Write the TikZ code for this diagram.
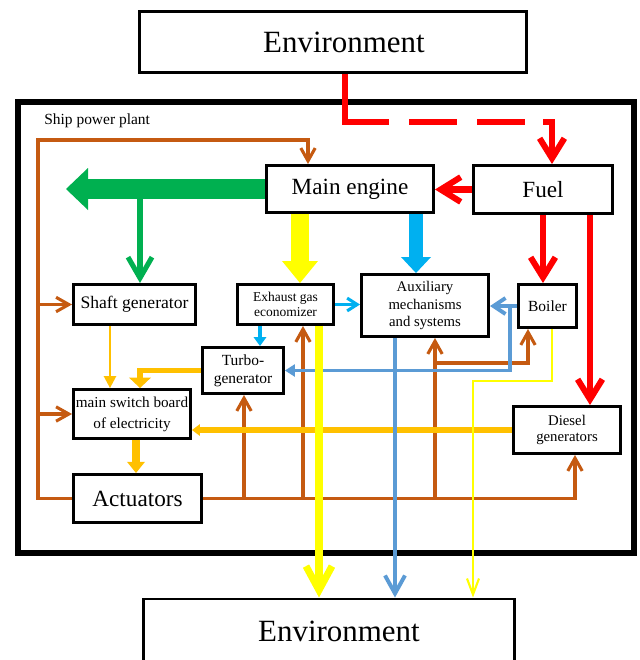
\documentclass[tikz,border=0pt]{standalone}
\usepackage{fontspec}
\setmainfont{Liberation Serif}
\usetikzlibrary{arrows.meta}

\definecolor{fuelred}{HTML}{FF0000}
\definecolor{shaftgreen}{HTML}{00B050}
\definecolor{gasyellow}{HTML}{FFFF00}
\definecolor{watercyan}{HTML}{00B0F0}
\definecolor{steamblue}{HTML}{5B9BD5}
\definecolor{powerorange}{HTML}{FFC000}
\definecolor{ctrlbrown}{HTML}{C55A11}

\begin{document}
\begin{tikzpicture}[x=0.025cm, y=-0.025cm,
  box/.style={draw, line width=2.1pt, align=center, inner sep=1pt, fill=white},
  envtext/.style={font=\fontsize{22}{26}\selectfont},
  bigtext/.style={font=\fontsize{16.5}{20}\selectfont},
  midtext/.style={font=\fontsize{12.5}{15}\selectfont},
  smalltext/.style={font=\fontsize{10.5}{12.5}\selectfont},
  tinytext/.style={font=\fontsize{9.6}{10.8}\selectfont},
  redflow/.style={fuelred, line width=4.3pt, -{Straight Barb[length=0.5cm,width=0.62cm]}},
  greenbig/.style={shaftgreen, line width=0.52cm, -{Triangle[length=0.55cm,width=1.05cm,line width=0pt]}},
  greenflow/.style={shaftgreen, line width=3.6pt, -{Straight Barb[length=0.52cm,width=0.6cm]}},
  yellowbig/.style={gasyellow, line width=0.45cm, -{Triangle[length=0.55cm,width=0.9cm,line width=0pt]}},
  yellowmid/.style={gasyellow, line width=5pt, -{Straight Barb[length=0.6cm,width=0.65cm]}},
  yellowthin/.style={gasyellow, line width=1.5pt, -{Straight Barb[length=0.4cm,width=0.3cm]}},
  cyanbig/.style={watercyan, line width=0.35cm, -{Triangle[length=0.4cm,width=0.75cm,line width=0pt]}},
  cyanlink/.style={watercyan, line width=2.2pt},
  steel/.style={steamblue, line width=2.8pt},
  orangelink/.style={powerorange, line width=2pt},
  brownlink/.style={ctrlbrown, line width=2.2pt, -{Straight Barb[length=0.32cm,width=0.36cm]}}]

  \useasboundingbox (0,0) rectangle (640,660);

  % plant frame
  \draw[line width=3.6pt] (18,102) rectangle (634,553);
  \node[anchor=west, font=\fontsize{11}{13}\selectfont, inner sep=0pt] (plantlabel) at (44,121) {Ship power plant};

  % blocks
  \node[box, envtext, minimum width=9.65cm, minimum height=1.525cm] (envtop) at (333,42) {\hspace*{0.55cm}Environment};
  \node[box, envtext, minimum width=9.275cm, minimum height=1.6cm] (envbot) at (329,631) {\hspace*{0.5cm}Environment};
  \node[box, bigtext, minimum width=4.175cm, minimum height=1.175cm] (engine) at (350,189) {Main engine};
  \node[box, bigtext, minimum width=3.475cm, minimum height=1.2cm] (fuel) at (543,189.5) {Fuel};
  \node[box, midtext, minimum width=3.05cm, minimum height=1cm] (shaftgen) at (134.5,304.5) {Shaft generator};
  \node[box, tinytext, minimum width=2.4cm, minimum height=1cm] (econ) at (285.5,304.5) {Exhaust gas\\economizer};
  \node[box, smalltext, minimum width=3.175cm, minimum height=1.55cm] (aux) at (425,305.5) {Auxiliary\\mechanisms\\and systems};
  \node[box, font=\fontsize{11}{13}\selectfont, minimum width=1.45cm, minimum height=1.075cm] (boiler) at (547.5,306) {Boiler};
  \node[box, font=\fontsize{11}{12.8}\selectfont, minimum width=2.025cm, minimum height=1.15cm] (turbo) at (243,370.5) {Turbo-\\generator};
  \node[box, font=\fontsize{10.8}{15}\selectfont, minimum width=2.925cm, minimum height=1.225cm] (switch) at (132,414) {main switch board\\of electricity};
  \node[box, font=\fontsize{10.5}{11.5}\selectfont, minimum width=2.675cm, minimum height=1.175cm] (diesel) at (567,430) {Diesel\\generators};
  \node[box, bigtext, minimum width=3.2cm, minimum height=1.2cm] (actuators) at (137.5,498.5) {Actuators};
  \coordinate (greenend) at (66,189);

  % control links
  \draw[brownlink] (actuators.west) -- (38,0 |- actuators.west) -- (38,140) -| (308,0 |- engine.north);
  \draw[brownlink] (38,0 |- shaftgen.west) -- (shaftgen.west);
  \draw[brownlink] (38,0 |- switch.west) -- (switch.west);
  \draw[brownlink] (actuators.east) -| (575,0 |- diesel.south);
  \foreach \bx/\tgt in {244/turbo, 303/econ, 435/aux}
    \draw[brownlink] (\bx,0 |- actuators.east) -- (\bx,0 |- \tgt.south);
  \draw[brownlink] (435,363) -| (528,0 |- boiler.south);

  % electric power
  \draw[orangelink, -{Triangle[length=0.3cm,width=0.32cm,line width=0pt]}] (110,0 |- shaftgen.south) -- (110,0 |- switch.north);
  \draw[orangelink, line width=4.2pt, -{Triangle[length=0.26cm,width=0.55cm,line width=0pt]}] (turbo.west) -| (140,0 |- switch.north);
  \draw[orangelink, line width=3.6pt, -{Triangle[length=0.2cm,width=0.3cm,line width=0pt]}] (diesel.west) -- (diesel.west -| switch.east);
  \draw[orangelink, line width=5.7pt, -{Triangle[length=0.28cm,width=0.45cm,line width=0pt]}] (136,0 |- switch.south) -- (136,0 |- actuators.north);

  % steam and water
  \draw[cyanbig] (416,0 |- engine.south) -- (416,0 |- aux.north);
  \draw[cyanlink, -{Straight Barb[length=0.25cm,width=0.32cm]}] (econ.east) -- (econ.east -| aux.west);
  \draw[cyanlink, line width=3pt, -{Triangle[length=0.22cm,width=0.32cm,line width=0pt]}] (260,0 |- econ.south) -- (260,0 |- turbo.north);
  \draw[steel, -{Straight Barb[length=0.3cm,width=0.4cm]}] (boiler.west) -- (boiler.west -| aux.east);
  \draw[steel, -{Triangle[length=0.25cm,width=0.32cm,line width=0pt]}] (510,0 |- boiler.west) |- (turbo.east);
  \draw[steel, -{Straight Barb[length=0.45cm,width=0.5cm]}] (395,0 |- aux.south) -- (395,0 |- envbot.north);

  % exhaust gas
  \draw[yellowbig] (300,0 |- engine.south) -- (300,0 |- econ.north);
  \draw[yellowmid] (319,0 |- econ.south) -- (319,0 |- envbot.north);
  \draw[yellowthin] (552,0 |- boiler.south) |- (473,381) -- (473,0 |- envbot.north);

  % mechanical power
  \draw[greenbig] (engine.west) -- (greenend);
  \draw[greenflow] (140,0 |- greenend) -- (140,0 |- shaftgen.north);

  % fuel
  \draw[redflow, dash pattern=on 2.3cm off 0.5cm on 1.2cm off 0.5cm on 1.2cm off 0.45cm on 5cm] (345,0 |- envtop.south) |- (552,122) -- (552,0 |- fuel.north);
  \draw[redflow] (fuel.west) -- (fuel.west -| engine.east);
  \draw[redflow] (fuel.south) -- (fuel.south |- boiler.north);
  \draw[redflow] (590,0 |- fuel.south) -- (590,0 |- diesel.north);
\end{tikzpicture}
\end{document}
